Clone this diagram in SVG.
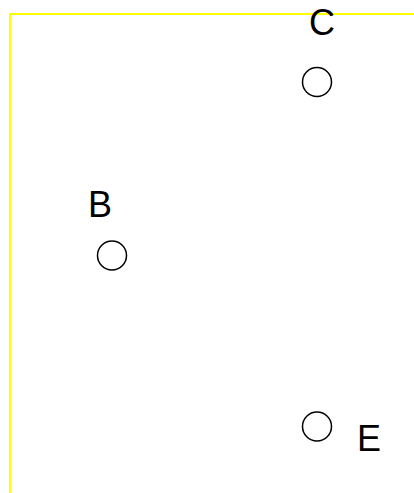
<svg xmlns="http://www.w3.org/2000/svg" width="414" height="493" viewBox="0 0 414 493">
<style>
.frame{fill:none;stroke:#ffff00;stroke-width:2}
.node circle{fill:none;stroke:#000;stroke-width:1.5}
.node text{font-family:"Liberation Sans",Arial,sans-serif;font-size:36px;fill:#000;text-anchor:middle}
</style>
<rect width="414" height="493" fill="#fff"/>
<path class="frame" d="M10,493 V14 H414"/>
<g id="connectors"></g>
<g id="C" class="node"><circle cx="317" cy="82" r="14.5"/><text x="322" y="35">C</text></g>
<g id="B" class="node"><circle cx="112" cy="255.5" r="14.5"/><text x="100" y="217">B</text></g>
<g id="E" class="node"><circle cx="317" cy="426.5" r="14.5"/><text x="369" y="451">E</text></g>
</svg>
